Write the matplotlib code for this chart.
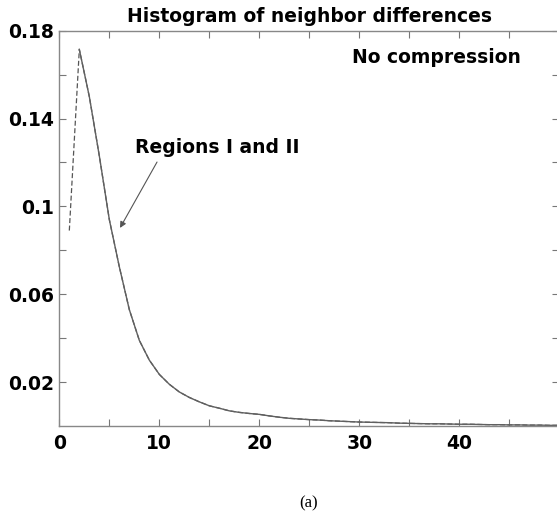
import matplotlib
matplotlib.use("Agg")
import matplotlib.pyplot as plt

# neighbor difference (bin) and normalised frequency
diff_bins = list(range(1, 51))
freq_region_2 = [
    0.089, 0.1715, 0.150, 0.123, 0.094, 0.0725, 0.053, 0.039, 0.030, 0.0235,
    0.019, 0.0155, 0.013, 0.011, 0.0092, 0.0081, 0.0069, 0.0062, 0.0057, 0.0053,
    0.0046, 0.0040, 0.0035, 0.0032, 0.0029, 0.0027, 0.0024, 0.0022, 0.0020, 0.0018,
    0.0017, 0.0016, 0.0015, 0.0013, 0.0012, 0.0011, 0.0010, 0.0010, 0.0009, 0.0008,
    0.0008, 0.0007, 0.0006, 0.0006, 0.0005, 0.0005, 0.0004, 0.0004, 0.0003, 0.0003,
]
# region I overlaps region II, starts at the peak
freq_region_1 = freq_region_2[1:]
bins_region_1 = diff_bins[1:]

x_ticks = [0, 5, 10, 15, 20, 25, 30, 35, 40, 45, 50]
x_labels = ["0", "", "10", "", "20", "", "30", "", "40", "", ""]
y_ticks = [0.02, 0.04, 0.06, 0.08, 0.10, 0.12, 0.14, 0.16, 0.18]
y_labels = ["0.02", "", "0.06", "", "0.1", "", "0.14", "", "0.18"]

bold = {"family": "DejaVu Sans", "weight": "bold", "size": 13.5}

fig = plt.figure(figsize=(5.57, 5.18), dpi=100)
ax = fig.add_axes([0.1065, 0.1776, 0.8977, 0.7631])

ax.plot(diff_bins, freq_region_2, color="#555555", lw=0.9, ls=(0, (4, 2)))
ax.plot(bins_region_1, freq_region_1, color="#606060", lw=1.0)

ax.set_xlim(0, 50)
ax.set_ylim(0, 0.18)
ax.set_xticks(x_ticks)
ax.set_xticklabels(x_labels, fontdict=bold)
ax.set_yticks(y_ticks)
ax.set_yticklabels(y_labels, fontdict=bold)
ax.tick_params(direction="in", length=5, width=0.8, color="#777777",
               top=True, right=True, pad=4)
ax.tick_params(axis="x", pad=6)
for s in ax.spines.values():
    s.set_color("#888888")
    s.set_linewidth(1.0)

ax.set_title("Histogram of neighbor differences", fontdict=bold, pad=6)

ax.text(29.3, 0.168, "No compression", ha="left", va="center", **bold)
ax.text(7.57, 0.1266, "Regions I and II", ha="left", va="center", **bold)
ax.annotate("", xy=(6.07, 0.0902), xytext=(9.77, 0.1202),
            arrowprops=dict(arrowstyle="-|>", color="#555555", lw=0.8,
                            mutation_scale=9, shrinkA=0, shrinkB=0))

fig.text(0.5548, 0.012, "(a)", ha="center", va="bottom",
         family="Liberation Serif", size=12)

fig.savefig("out.png", dpi=100)
